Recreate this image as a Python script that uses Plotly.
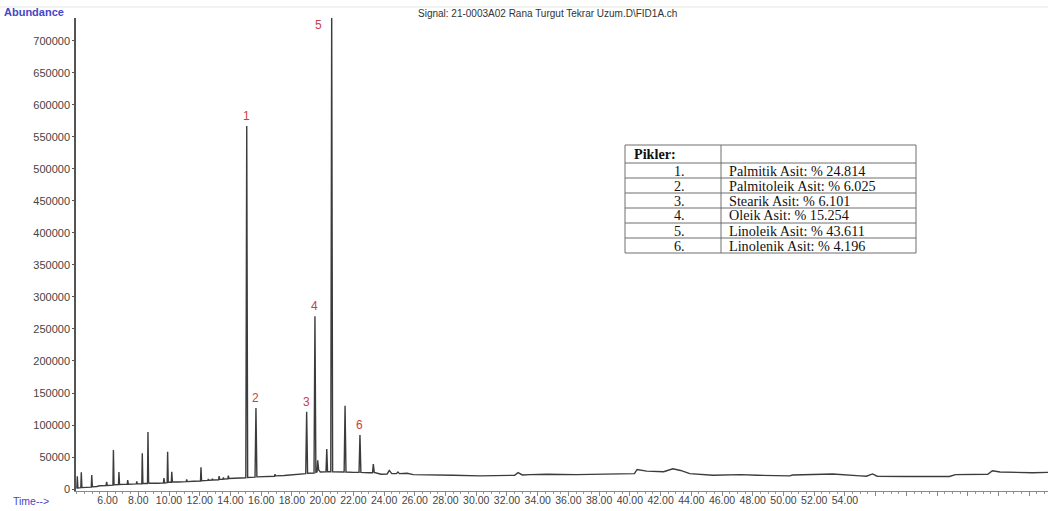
import plotly.graph_objects as go

# ---------------- data ----------------
time_min = [
    3.98, 4.00, 4.03, 4.07, 4.26, 4.29, 4.33, 4.60, 4.94, 4.97, 5.01, 5.30, 5.50, 5.90, 5.94, 5.98,
    6.35, 6.38, 6.42, 6.71, 6.74, 6.78, 7.28, 7.31, 7.35, 7.87, 7.90, 7.94, 8.23, 8.26, 8.30,
    8.60, 8.63, 8.67, 8.72, 9.30, 9.64, 9.67, 9.71, 9.88, 9.91, 9.95, 10.15, 10.18, 10.22,
    10.60, 11.12, 11.15, 11.19, 11.60, 12.05, 12.08, 12.12, 12.53, 12.56, 12.60, 12.79, 12.82, 12.86,
    13.23, 13.26, 13.30, 13.50, 13.54, 13.58, 13.83, 13.86, 13.90, 14.50, 15.00, 15.06, 15.12,
    15.60, 15.66, 15.72, 16.30, 16.87, 16.90, 16.94, 17.50, 18.00, 18.50, 18.90, 18.96, 19.02,
    19.44, 19.50, 19.56, 19.64, 19.68, 19.74, 19.85, 20.22, 20.27, 20.32, 20.53, 20.59, 20.65,
    21.00, 21.40, 21.46, 21.52, 22.00, 22.37, 22.43, 22.49, 23.00, 23.25, 23.30, 23.36, 23.80,
    24.20, 24.34, 24.50, 24.80, 24.90, 25.00, 25.50, 25.90, 27.00, 28.50, 30.25, 32.00, 32.50,
    32.72, 33.00, 33.50, 34.60, 36.50, 38.90, 40.30, 40.47, 41.10, 42.20, 42.80, 43.30, 43.90,
    45.40, 46.50, 47.20, 48.30, 49.80, 50.40, 50.60, 51.50, 53.20, 55.00, 55.40, 55.80, 56.10,
    58.00, 60.80, 61.20, 63.30, 63.60, 64.10, 66.20, 67.30,
]
abundance = [
    1000, 1200, 20000, 1500, 2000, 26000, 2200, 2500, 3000, 22000, 3500, 4000, 5000, 5500, 11000, 5500,
    6000, 61000, 6500, 7000, 26500, 7000, 7500, 14000, 7500, 8000, 12000, 8000, 8200, 56000, 8500,
    8500, 89000, 10000, 9000, 9000, 9500, 17000, 9500, 10000, 58000, 10500, 10500, 27000, 11000,
    11000, 11500, 15000, 11500, 12000, 12500, 34000, 13000, 13500, 15500, 13500, 14000, 16000, 14000,
    14500, 20000, 15000, 15000, 18000, 15500, 16000, 21000, 16500, 17000, 17500, 567000, 18000,
    18500, 126500, 19000, 19500, 20000, 23000, 20500, 21000, 22000, 23000, 24000, 120500, 24500,
    25000, 270000, 26000, 27000, 45000, 30000, 26500, 27000, 62500, 27000, 27000, 745000, 27000,
    26500, 26500, 130000, 26500, 26000, 26000, 84400, 26000, 25500, 25500, 39000, 26000, 23000,
    23500, 29000, 24000, 24000, 26500, 24000, 24500, 22500, 22500, 21500, 20500, 21000, 21500,
    25500, 22000, 22500, 23000, 22500, 23500, 24000, 30500, 28000, 27000, 31500, 29000, 24000,
    21500, 22000, 22500, 21500, 20500, 20500, 21800, 22000, 23500, 20500, 20000, 23500, 20000,
    19500, 19500, 22500, 23000, 28500, 26500, 25500, 26000,
]

peak_numbers = ["1", "2", "3", "4", "5", "6"]
peak_times = [15.06, 15.66, 18.96, 19.50, 20.59, 22.43]
peak_heights = [567000, 126500, 120500, 270000, 745000, 84400]

table_ids = ["1.", "2.", "3.", "4.", "5.", "6."]
table_names = ["Palmitik Asit", "Palmitoleik Asit", "Stearik Asit",
               "Oleik Asit", "Linoleik Asit", "Linolenik Asit"]
table_pcts = ["24.814", "6.025", "6.101", "15.254", "43.611", "4.196"]

x_tick_vals = list(range(6, 68, 2))
x_tick_text = [f"{v:.2f}" if v <= 54 else "" for v in x_tick_vals]
y_tick_vals = list(range(0, 700001, 50000))
y_tick_text = [str(v) for v in y_tick_vals]

# ---------------- layout helpers (pixel -> paper) ----------------
W, H = 1048, 511
ML, MR, MT, MB = 76, 0, 18, 20
PW, PH = W - ML - MR, H - MT - MB


def px(xp):
    return (xp - ML) / PW


def py(yp):
    return (H - MB - yp) / PH


Y_TOP = 735900
Y_BOT = -3125

fig = go.Figure()
fig.add_trace(go.Scatter(
    x=time_min, y=abundance, mode="lines",
    line=dict(color="#3c3c3c", width=1.4),
    hoverinfo="skip", showlegend=False,
))

annotations = []
red = "#c8403f"
for lab, t, h in zip(peak_numbers, peak_times, peak_heights):
    if h > Y_TOP * 0.97:
        annotations.append(dict(x=t, y=725000, xref="x", yref="y", text=lab,
                                showarrow=False, xshift=-13, yanchor="middle",
                                font=dict(color=red, size=12, family="Liberation Sans")))
    else:
        annotations.append(dict(x=t, y=h, xref="x", yref="y", text=lab,
                                showarrow=False, yanchor="bottom", yshift=1,
                                font=dict(color=red, size=12, family="Liberation Sans")))

blue = "#4646c8"
annotations.append(dict(x=px(2), y=py(12), xref="paper", yref="paper", text="<b>Abundance</b>",
                        showarrow=False, xanchor="left", yanchor="middle",
                        font=dict(color=blue, size=11, family="Liberation Sans")))
annotations.append(dict(x=px(11), y=py(501), xref="paper", yref="paper", text="Time-->",
                        showarrow=False, xanchor="left", yanchor="middle",
                        font=dict(color=blue, size=10.5, family="Liberation Sans")))
annotations.append(dict(x=px(416), y=py(13), xref="paper", yref="paper",
                        text="Signal: 21-0003A02 Rana Turgut Tekrar Uzum.D\\FID1A.ch",
                        showarrow=False, xanchor="left", yanchor="middle",
                        font=dict(color="#333333", size=10, family="Liberation Sans")))

# table
TL, TD, TR = 625, 721, 916
TT, THB, RH = 145, 163, 15
TB = THB + RH * len(table_ids)
shapes = []
lc = "#6e6e6e"
shapes.append(dict(type="rect", xref="paper", yref="paper",
                   x0=px(TL), x1=px(TR), y0=py(TB), y1=py(TT),
                   line=dict(color=lc, width=1), fillcolor="white", layer="above"))
for k in range(len(table_ids)):
    yy = THB + RH * k
    shapes.append(dict(type="line", xref="paper", yref="paper",
                       x0=px(TL), x1=px(TR), y0=py(yy), y1=py(yy),
                       line=dict(color=lc, width=1)))
shapes.append(dict(type="line", xref="paper", yref="paper",
                   x0=px(TD), x1=px(TD), y0=py(TB), y1=py(TT),
                   line=dict(color=lc, width=1)))
serif = "Liberation Serif"
FS = 14.2
annotations.append(dict(x=px(632), y=py((TT + THB) / 2), xref="paper", yref="paper",
                        text="<b>Pikler:</b>", showarrow=False, xanchor="left", yanchor="middle",
                        font=dict(color="#111111", size=FS, family=serif)))
for k, (pid, nm, pc) in enumerate(zip(table_ids, table_names, table_pcts)):
    yc = THB + RH * k + RH / 2
    annotations.append(dict(x=px((TL + TD) / 2 + 6), y=py(yc), xref="paper", yref="paper",
                            text=pid, showarrow=False, xanchor="center", yanchor="middle",
                            font=dict(color="#111111", size=FS, family=serif)))
    annotations.append(dict(x=px(727), y=py(yc), xref="paper", yref="paper",
                            text=f"{nm}: % {pc}", showarrow=False, xanchor="left",
                            yanchor="middle",
                            font=dict(color="#111111", size=FS, family=serif)))

# top faint window line
shapes.append(dict(type="line", xref="paper", yref="paper", x0=px(0), x1=px(W),
                   y0=py(7), y1=py(7), line=dict(color="#dfe9dc", width=1)))

fig.update_layout(
    width=W, height=H,
    margin=dict(l=ML, r=MR, t=MT, b=MB),
    plot_bgcolor="white", paper_bgcolor="white",
    annotations=annotations, shapes=shapes,
    xaxis=dict(range=[3.945, 67.22], tickmode="array", tickvals=x_tick_vals,
               ticktext=x_tick_text, showgrid=False, zeroline=False,
               showline=True, linecolor="#888888", linewidth=1,
               ticks="outside", ticklen=4, tickcolor="#888888",
               ticklabelstandoff=-5,
               minor=dict(tickmode="linear", tick0=0, dtick=0.5, ticks="outside",
                          ticklen=2, tickcolor="#999999"),
               tickfont=dict(size=10.5, color="#444444", family="Liberation Sans")),
    yaxis=dict(range=[Y_BOT, Y_TOP], tickmode="array", tickvals=y_tick_vals,
               ticktext=y_tick_text, showgrid=False, zeroline=False,
               showline=True, linecolor="#555555", linewidth=1.5,
               ticks="outside", ticklen=2, tickcolor="#555555",
               tickfont=dict(size=11, color="#444444", family="Liberation Sans")),
)

fig.write_html("out.html", config={"displayModeBar": False},
               post_script="document.body.style.margin='0px';document.body.style.overflow='hidden';")
